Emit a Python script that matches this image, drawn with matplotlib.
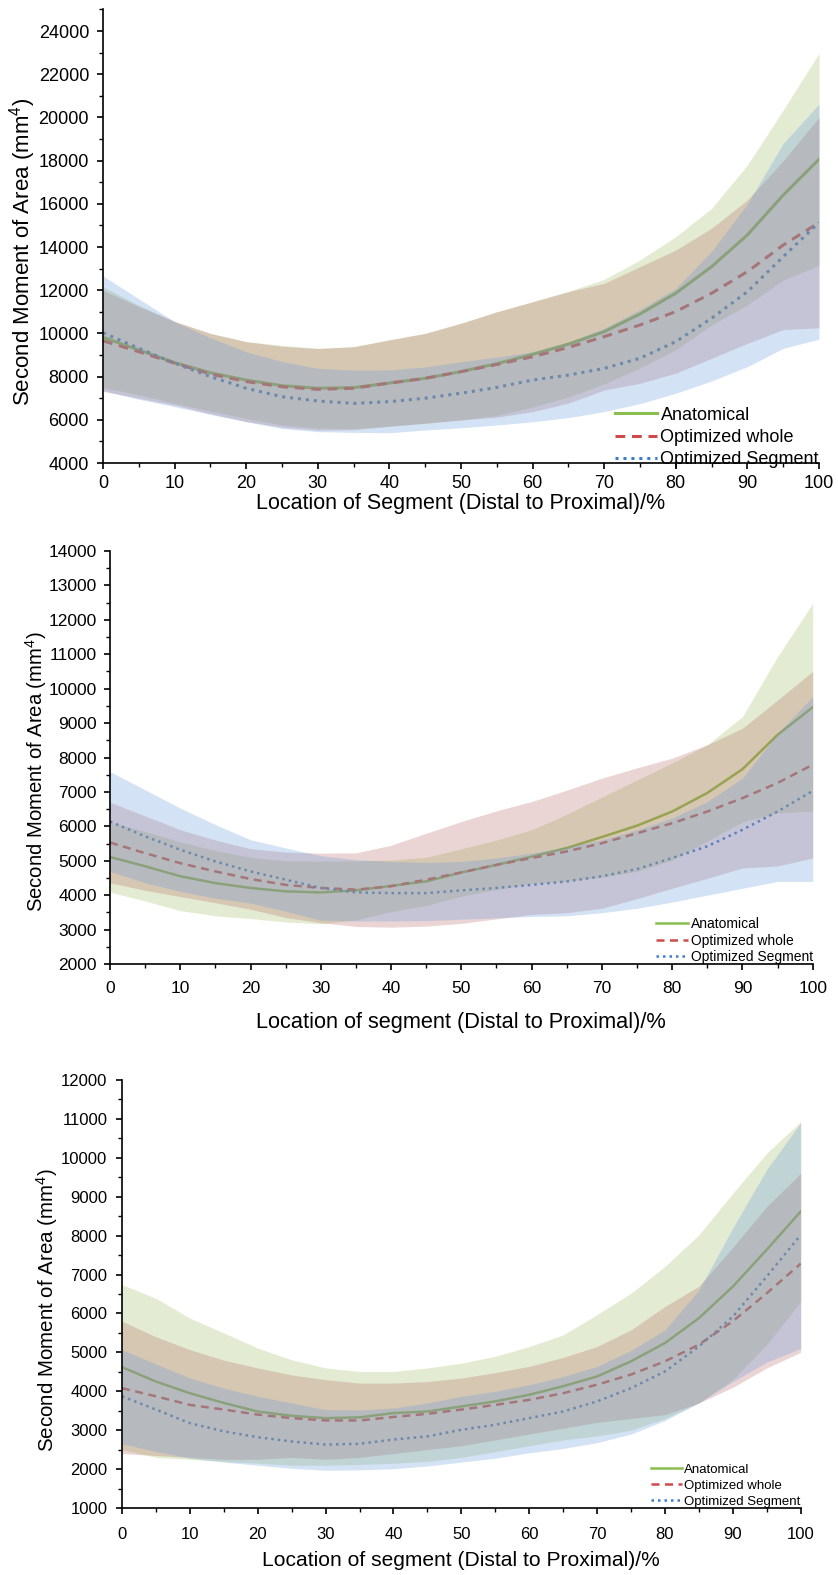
import numpy as np
import matplotlib
matplotlib.use('Agg')
import matplotlib.pyplot as plt
from matplotlib.ticker import MultipleLocator

plt.rcParams['font.family'] = ['Liberation Sans', 'DejaVu Sans']
plt.rcParams['mathtext.fontset'] = 'custom'
plt.rcParams['mathtext.rm'] = 'Liberation Sans'
plt.rcParams['mathtext.it'] = 'Liberation Sans:italic'

# ===== DATA =====
x = [0, 5, 10, 15, 20, 25, 30, 35, 40, 45, 50, 55, 60, 65, 70, 75, 80, 85, 90, 95, 100]
labels = ["Anatomical", "Optimized whole", "Optimized Segment"]

# panel A: whole bone
a_anat = [9820, 9230, 8650, 8180, 7840, 7580, 7460, 7490, 7700, 7920, 8230, 8600, 9030, 9500, 10080, 10900, 11860, 13090, 14560, 16400, 18060]
a_anat_hi = [12160, 11300, 10540, 10000, 9620, 9450, 9310, 9390, 9700, 10000, 10470, 11000, 11470, 11950, 12500, 13400, 14480, 15790, 17800, 20340, 22970]
a_anat_lo = [7480, 7160, 6760, 6400, 6060, 5760, 5610, 5590, 5700, 5840, 6000, 6200, 6590, 7050, 7660, 8400, 9240, 10390, 11320, 12460, 13150]
a_whole = [9660, 9150, 8620, 8120, 7770, 7530, 7410, 7460, 7700, 7920, 8230, 8560, 8920, 9350, 9850, 10390, 11010, 11860, 12860, 14090, 15130]
a_whole_hi = [12000, 11250, 10560, 10000, 9620, 9400, 9300, 9380, 9700, 10000, 10470, 11000, 11460, 11930, 12320, 13090, 13860, 14870, 16180, 18000, 20000]
a_whole_lo = [7320, 7000, 6680, 6280, 5920, 5660, 5520, 5540, 5700, 5840, 5990, 6120, 6380, 6770, 7380, 7690, 8160, 8850, 9540, 10180, 10260]
a_seg = [10030, 9310, 8620, 8000, 7460, 7070, 6870, 6760, 6840, 7000, 7230, 7500, 7840, 8070, 8380, 8850, 9620, 10700, 11930, 13550, 15130]
a_seg_hi = [12660, 11600, 10540, 9800, 9150, 8700, 8380, 8300, 8310, 8450, 8690, 8900, 9150, 9600, 10240, 11100, 12090, 13800, 16000, 18800, 20620]
a_seg_lo = [7350, 6950, 6610, 6250, 5910, 5600, 5450, 5420, 5400, 5530, 5630, 5760, 5910, 6100, 6380, 6750, 7230, 7800, 8460, 9310, 9730]

# panel B
b_anat = [5110, 4840, 4550, 4350, 4210, 4110, 4080, 4140, 4270, 4400, 4660, 4880, 5120, 5370, 5690, 6020, 6430, 6970, 7660, 8660, 9460]
b_anat_hi = [6130, 5850, 5550, 5300, 5100, 5000, 4990, 5000, 5020, 5100, 5350, 5600, 5900, 6350, 6850, 7350, 7840, 8370, 9190, 10930, 12480]
b_anat_lo = [4090, 3830, 3550, 3400, 3320, 3220, 3170, 3280, 3520, 3700, 3970, 4160, 4340, 4400, 4520, 4690, 5020, 5570, 6130, 6390, 6440]
b_whole = [5530, 5220, 4930, 4690, 4470, 4300, 4210, 4160, 4260, 4450, 4660, 4880, 5080, 5270, 5510, 5800, 6090, 6430, 6820, 7260, 7790]
b_whole_hi = [6700, 6300, 5900, 5600, 5350, 5250, 5220, 5230, 5450, 5800, 6140, 6450, 6720, 7050, 7400, 7700, 7980, 8370, 8850, 9670, 10500]
b_whole_lo = [4360, 4140, 3960, 3780, 3590, 3350, 3200, 3090, 3070, 3100, 3180, 3310, 3440, 3490, 3620, 3900, 4200, 4490, 4790, 4850, 5080]
b_seg = [6140, 5710, 5320, 4980, 4690, 4450, 4210, 4080, 4060, 4060, 4140, 4210, 4300, 4400, 4550, 4760, 5080, 5420, 5900, 6430, 7030]
b_seg_hi = [7590, 7060, 6530, 6050, 5610, 5370, 5150, 5030, 4980, 4950, 4980, 5080, 5220, 5400, 5610, 5900, 6240, 6720, 7400, 8700, 9770]
b_seg_lo = [4690, 4360, 4110, 3910, 3770, 3530, 3270, 3250, 3250, 3260, 3300, 3340, 3380, 3400, 3490, 3620, 3800, 4000, 4200, 4400, 4400]

# panel C
c_anat = [4620, 4250, 3950, 3700, 3480, 3370, 3310, 3330, 3440, 3480, 3610, 3740, 3910, 4130, 4380, 4770, 5240, 5880, 6690, 7640, 8620]
c_anat_hi = [6740, 6390, 5880, 5500, 5110, 4810, 4600, 4510, 4510, 4600, 4720, 4900, 5150, 5450, 5970, 6520, 7210, 8020, 9090, 10120, 10930]
c_anat_lo = [2500, 2300, 2250, 2200, 2150, 2100, 2100, 2120, 2150, 2200, 2300, 2450, 2600, 2750, 2850, 3000, 3300, 3700, 4300, 5200, 6300]
c_whole = [4080, 3870, 3650, 3530, 3400, 3310, 3250, 3250, 3340, 3420, 3530, 3650, 3780, 3950, 4170, 4430, 4770, 5200, 5800, 6520, 7280]
c_whole_hi = [5800, 5400, 5070, 4800, 4600, 4420, 4300, 4210, 4210, 4250, 4340, 4480, 4640, 4870, 5150, 5580, 6180, 6700, 7700, 8750, 9600]
c_whole_lo = [2400, 2350, 2300, 2250, 2250, 2300, 2250, 2300, 2400, 2500, 2600, 2750, 2900, 3050, 3200, 3300, 3400, 3700, 4100, 4600, 5000]
c_seg = [3870, 3530, 3180, 2970, 2820, 2710, 2630, 2650, 2760, 2840, 3010, 3140, 3310, 3480, 3740, 4080, 4510, 5150, 5920, 6950, 8020]
c_seg_hi = [5070, 4700, 4340, 4080, 3870, 3700, 3530, 3520, 3570, 3700, 3870, 4000, 4170, 4380, 4640, 5050, 5580, 6600, 8200, 9700, 10900]
c_seg_lo = [2650, 2450, 2280, 2180, 2100, 2020, 1970, 1980, 2010, 2080, 2180, 2280, 2420, 2530, 2680, 2900, 3250, 3700, 4250, 4750, 5100]

# ===== STYLE =====
line_colors = ['#8cbd4f', '#d04a4a', '#3d7ccb']
fill_colors = ['#9bbb59', '#b05a55', '#6f9fdc']
fill_alpha = [0.27, 0.25, 0.30]
styles = ['-', (0, (3.2, 2.2)), (0, (1, 1.6))]

fig = plt.figure(figsize=(8.38, 15.75), dpi=100)

panels = [
    dict(rect=[103/838, 1-463/1575, 716/838, 453.6/1575], ylim=(4000, 25000), minor=1000,
         yticks=range(4000, 24001, 2000),
         series=[(a_anat, a_anat_lo, a_anat_hi), (a_whole, a_whole_lo, a_whole_hi), (a_seg, a_seg_lo, a_seg_hi)],
         xlabel="Location of Segment (Distal to Proximal)/%", tick_fs=13, xlab_fs=15.5, ylab_fs=16,
         xlab_y=-0.09, ylab=(-0.112, 0.465), xpad=4.5, ypad=5.5,
         leg_fs=13, leg_anchor=(1.0, -0.012), handlelength=2.3, labelspacing=0.3, lw=2.2),
    dict(rect=[110/838, 1-964/1575, 702.7/838, 413/1575], ylim=(2000, 14000), minor=500,
         yticks=range(2000, 14001, 1000),
         series=[(b_anat, b_anat_lo, b_anat_hi), (b_whole, b_whole_lo, b_whole_hi), (b_seg, b_seg_lo, b_seg_hi)],
         xlabel="Location of segment (Distal to Proximal)/%", tick_fs=12.5, xlab_fs=15.7, ylab_fs=14.6,
         xlab_y=-0.142, ylab=(-0.105, 0.465), xpad=8, ypad=5,
         leg_fs=10, leg_anchor=(1.0, 0.0), handlelength=2.3, labelspacing=0.17, lw=1.8),
    dict(rect=[122/838, 1-1508/1575, 678.7/838, 428/1575], ylim=(1000, 12000), minor=500,
         yticks=range(1000, 12001, 1000),
         series=[(c_anat, c_anat_lo, c_anat_hi), (c_whole, c_whole_lo, c_whole_hi), (c_seg, c_seg_lo, c_seg_hi)],
         xlabel="Location of segment (Distal to Proximal)/%", tick_fs=12, xlab_fs=15.1, ylab_fs=14.8,
         xlab_y=-0.1215, ylab=(-0.1105, 0.463), xpad=9, ypad=6,
         leg_fs=9.5, leg_anchor=(1.0, 0.0), handlelength=2.35, labelspacing=0.29, lw=1.8),
]

for p in panels:
    ax = fig.add_axes(p['rect'])
    handles = []
    for i, (mean, lo, hi) in enumerate(p['series']):
        # lines sit under the shaded bands, like in the original
        h, = ax.plot(x, mean, linestyle=styles[i], color=line_colors[i], lw=p['lw'],
                     label=labels[i], zorder=1)
        handles.append(h)
    for i, (mean, lo, hi) in enumerate(p['series']):
        ax.fill_between(x, lo, hi, color=fill_colors[i], alpha=fill_alpha[i], lw=0, zorder=2)

    ax.set_xlim(0, 100)
    ax.set_ylim(*p['ylim'])
    ax.set_xticks(range(0, 101, 10))
    ax.set_yticks(list(p['yticks']))
    ax.xaxis.set_minor_locator(MultipleLocator(5))
    ax.yaxis.set_minor_locator(MultipleLocator(p['minor']))
    ax.spines['top'].set_visible(False)
    ax.spines['right'].set_visible(False)
    for s in ('left', 'bottom'):
        ax.spines[s].set_linewidth(1.2)
        ax.spines[s].set_zorder(5)
    ax.tick_params(which='major', direction='out', length=4.5, width=1.2, labelsize=p['tick_fs'])
    ax.tick_params(which='minor', direction='out', length=3, width=1.0)
    ax.tick_params(axis='x', which='major', pad=p['xpad'])
    ax.tick_params(axis='y', which='major', pad=p['ypad'])

    ax.set_xlabel(p['xlabel'], fontsize=p['xlab_fs'])
    ax.xaxis.label.set_verticalalignment('center')
    ax.xaxis.set_label_coords(0.5, p['xlab_y'])
    ax.set_ylabel(r'Second Moment of Area (mm$^{4}$)', fontsize=p['ylab_fs'])
    ax.yaxis.label.set_verticalalignment('center')
    ax.yaxis.set_label_coords(*p['ylab'])

    ax.legend(handles=handles, loc='lower right', bbox_to_anchor=p['leg_anchor'], frameon=False,
              fontsize=p['leg_fs'], handlelength=p['handlelength'], handletextpad=0.2,
              labelspacing=p['labelspacing'], borderaxespad=0, borderpad=0)

fig.savefig('out.png', dpi=100)
